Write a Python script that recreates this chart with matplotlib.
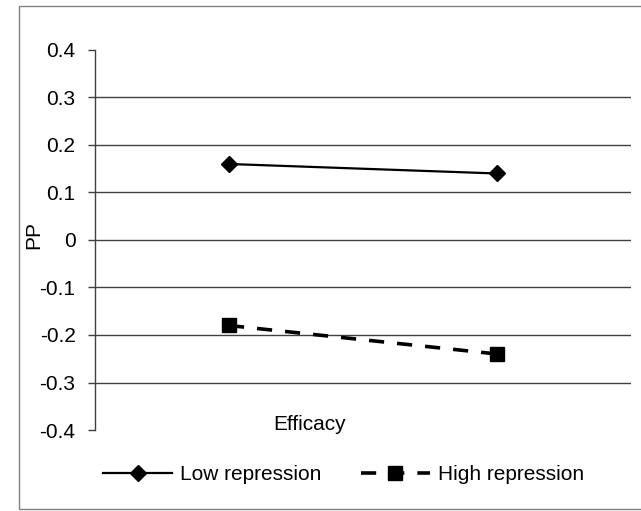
import numpy as np
import matplotlib.pyplot as plt
from matplotlib.patches import Rectangle

plt.rcParams['font.family'] = ['Liberation Sans', 'DejaVu Sans']

# data
categories = [1, 2]
low_repression = [0.16, 0.14]
high_repression = [-0.18, -0.24]
y_ticks = [-0.4, -0.3, -0.2, -0.1, 0, 0.1, 0.2, 0.3, 0.4]
y_tick_labels = ['-0.4', '-0.3', '-0.2', '-0.1', '0', '0.1', '0.2', '0.3', '0.4']

fig = plt.figure(figsize=(6.41, 5.11), dpi=100)
ax = fig.add_axes([0.1482, 0.1585, 0.8362, 0.7437])

# gridlines (none at the top/bottom limits)
for yv in y_ticks[1:-1]:
    ax.axhline(yv, color='#404040', lw=1.0, zorder=1)

ax.plot(categories, low_repression, color='black', lw=1.6, marker='D',
        markersize=8.5, label='Low repression', zorder=3)
ax.plot(categories, high_repression, color='black', lw=2.6, ls=(0, (4.2, 3.6)),
        marker='s', markersize=10.5, label='High repression', zorder=3)

ax.set_xlim(0.5, 2.5)
ax.set_ylim(-0.4, 0.4)
ax.set_yticks(y_ticks)
ax.set_yticklabels(y_tick_labels, fontsize=15)
ax.set_xticks([])
ax.tick_params(axis='y', length=5, width=1.0, color='#404040', pad=9)
for s in ['top', 'right', 'bottom']:
    ax.spines[s].set_visible(False)
ax.spines['left'].set_color('#404040')
ax.spines['left'].set_linewidth(1.0)

ax.set_ylabel('PP', fontsize=15)
ax.yaxis.set_label_coords(-0.097, 0.513)
ax.text(1.3, -0.389, 'Efficacy', fontsize=15, ha='center', va='center')

fig.legend(loc='center', bbox_to_anchor=(0.536, 0.0705), ncol=2, frameon=False,
           fontsize=15, handlelength=3.3, columnspacing=1.9, handletextpad=0.38)

# outer chart border
fig.patches.append(Rectangle((19 / 641, 2 / 511), 640 / 641, 503 / 511,
                             transform=fig.transFigure, fill=False,
                             edgecolor='#808080', lw=1.0))

plt.savefig('out.png', dpi=100)
